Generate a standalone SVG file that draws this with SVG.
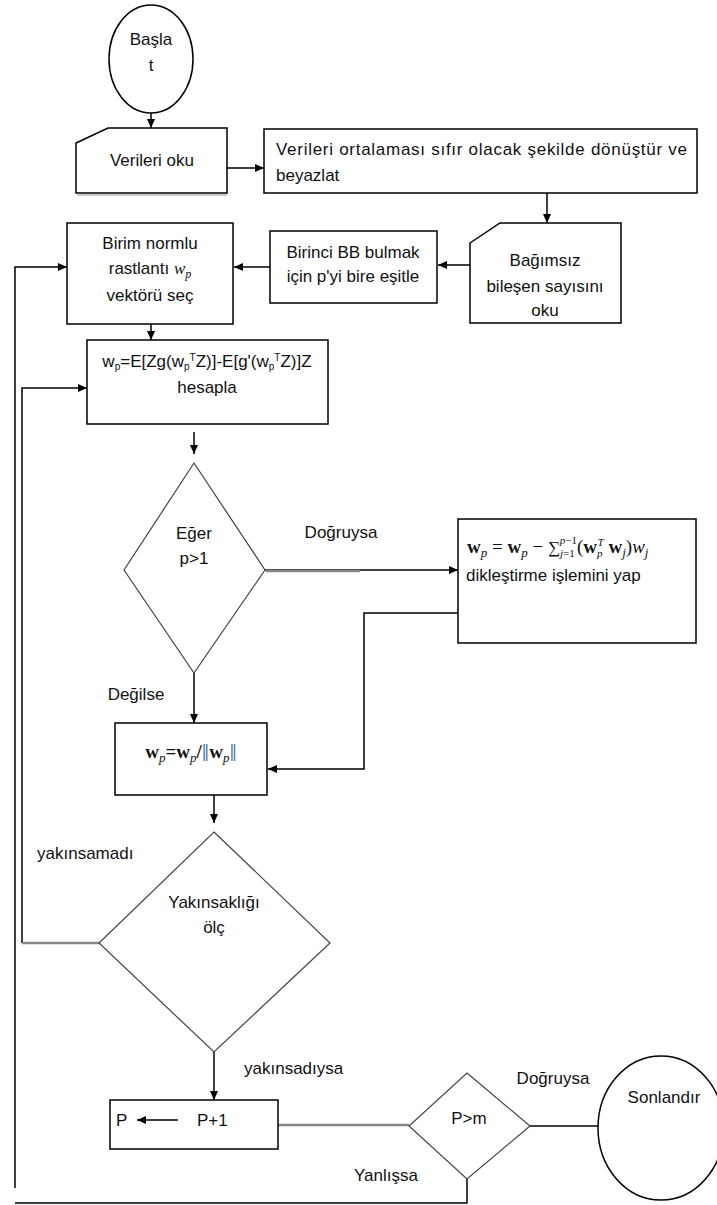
<svg xmlns="http://www.w3.org/2000/svg" width="717" height="1205" viewBox="0 0 717 1205">
<style>
.t{font-family:"Liberation Sans",Arial,sans-serif;font-size:17px;fill:#111;}
.m{text-anchor:middle;}
.s{font-family:"Liberation Serif","Times New Roman",serif;fill:#111;}
.box{fill:#fff;stroke:#000;stroke-width:1.5;}
.dia{fill:#fff;stroke:#444;stroke-width:1.2;}
.ln{fill:none;stroke:#000;stroke-width:1.5;}
.gr{fill:none;stroke:#888;stroke-width:2.5;}
</style>
<defs>
<marker id="ah" markerUnits="userSpaceOnUse" markerWidth="10" markerHeight="10" refX="9" refY="5" orient="auto">
<path d="M0,1 L9,5 L0,9 Z" fill="#000"/>
</marker>
</defs>
<rect width="717" height="1205" fill="#fff"/>

<g id="connectors">
<line class="ln" x1="151" y1="113" x2="151" y2="128" marker-end="url(#ah)"/>
<line class="ln" x1="227" y1="168" x2="264" y2="168" marker-end="url(#ah)"/>
<line class="ln" x1="547" y1="193" x2="547" y2="223" marker-end="url(#ah)"/>
<line class="ln" x1="470" y1="265" x2="438" y2="265" marker-end="url(#ah)"/>
<line class="ln" x1="270" y1="267" x2="234" y2="267" marker-end="url(#ah)"/>
<polyline class="ln" points="15,1188 15,267 67,267" marker-end="url(#ah)"/>
<line class="ln" x1="151" y1="324" x2="151" y2="340" marker-end="url(#ah)"/>
<polyline class="ln" points="22,943 22,388 87,388" marker-end="url(#ah)"/>
<line class="gr" x1="99" y1="943" x2="22" y2="943"/>
<line class="ln" x1="194" y1="432" x2="194" y2="454" marker-end="url(#ah)"/>
<line class="ln" x1="265" y1="570" x2="458" y2="570" marker-end="url(#ah)"/>
<line class="gr" x1="266" y1="571" x2="360" y2="571" stroke-width="1.5"/>
<polyline class="ln" points="458,613 364,613 364,769 268,769" marker-end="url(#ah)"/>
<line class="ln" x1="194" y1="673" x2="194" y2="723" marker-end="url(#ah)"/>
<line class="ln" x1="214" y1="795" x2="214" y2="823" marker-end="url(#ah)"/>
<line class="ln" x1="214" y1="1052" x2="214" y2="1100" marker-end="url(#ah)"/>
<line class="gr" x1="278" y1="1125" x2="409" y2="1125"/>
<line class="ln" x1="530" y1="1126" x2="598" y2="1126"/>
<polyline class="ln" points="467,1179 467,1203 15,1203" stroke="#444"/>
</g>

<g id="start">
<ellipse class="box" cx="151" cy="59" rx="42" ry="54" stroke-width="1.2" stroke="#333"/>
<text class="t m" x="151" y="45">Başla</text>
<text class="t m" x="151" y="71">t</text>
</g>

<g id="read-data">
<path class="box" d="M76,143 L108,128 L227,128 L227,193 L76,193 Z"/>
<line x1="77" y1="195" x2="227" y2="195" stroke="#999" stroke-width="1"/>
<text class="t m" x="152" y="166">Verileri oku</text>
</g>

<g id="transform">
<rect class="box" x="264" y="129" width="433" height="64"/>
<text class="t" x="276" y="155" textLength="411" lengthAdjust="spacing">Verileri ortalaması sıfır olacak şekilde dönüştür ve</text>
<text class="t" x="276" y="181">beyazlat</text>
</g>

<g id="read-count">
<path class="box" d="M470,243 L500,223 L621,223 L621,323 L470,323 Z"/>
<text class="t m" x="545" y="266">Bağımsız</text>
<text class="t m" x="545" y="292">bileşen sayısını</text>
<text class="t m" x="545" y="316">oku</text>
</g>

<g id="set-p">
<rect class="box" x="270" y="231" width="167" height="72"/>
<text class="t m" x="353" y="258">Birinci BB bulmak</text>
<text class="t m" x="353" y="282">için p'yi bire eşitle</text>
</g>

<g id="choose-w">
<rect class="box" x="67" y="223" width="166" height="101"/>
<text class="t m" x="150" y="249">Birim normlu</text>
<text class="t m" x="150" y="274">rastlantı <tspan class="s" font-style="italic">w<tspan font-size="12" dy="4">p</tspan></tspan></text>
<text class="t m" x="150" y="301">vektörü seç</text>
</g>

<g id="compute-w">
<rect class="box" x="87" y="340" width="241" height="84"/>
<text class="t m" x="207" y="367">w<tspan font-size="10" dy="3">p</tspan><tspan dy="-3">=E[Zg(w</tspan><tspan font-size="10" dy="3">p</tspan><tspan font-size="10" dy="-9">T</tspan><tspan dy="6">Z)]-E[g'(w</tspan><tspan font-size="10" dy="3">p</tspan><tspan font-size="10" dy="-9">T</tspan><tspan dy="6">Z)]Z</tspan></text>
<text class="t m" x="207" y="393">hesapla</text>
</g>

<g id="decision-p">
<polygon class="dia" points="194,463 265,570 194,673 124,570"/>
<text class="t m" x="194" y="539">Eğer</text>
<text class="t m" x="194" y="564">p&gt;1</text>
</g>

<g id="orthogonalize">
<rect class="box" x="458" y="519" width="238" height="124"/>
<text class="s" x="467" y="553" font-size="19"><tspan font-weight="bold">w</tspan><tspan font-style="italic" font-size="13" dy="4">p</tspan><tspan dy="-4"> = </tspan><tspan font-weight="bold">w</tspan><tspan font-style="italic" font-size="13" dy="4">p</tspan><tspan dy="-4"> − </tspan><tspan font-size="17">∑</tspan><tspan font-style="italic" font-size="11" dy="4">j</tspan><tspan font-size="11">=1</tspan><tspan font-style="italic" font-size="11" dx="-15" dy="-13">p</tspan><tspan font-size="11">−1</tspan><tspan dy="9">(</tspan><tspan font-weight="bold">w</tspan><tspan font-style="italic" font-size="11" dy="4">p</tspan><tspan font-style="italic" font-size="11" dx="-5" dy="-11">T</tspan><tspan dy="7"> </tspan><tspan font-weight="bold">w</tspan><tspan font-style="italic" font-size="13" dy="4">j</tspan><tspan dy="-4">)</tspan><tspan font-style="italic">w</tspan><tspan font-style="italic" font-size="13" dy="4">j</tspan></text>
<text class="t" x="466" y="581">dikleştirme işlemini yap</text>
</g>

<g id="normalize">
<rect class="box" x="115" y="723" width="152" height="72"/>
<text class="s m" x="191" y="758" font-size="19" font-weight="bold">w<tspan font-style="italic" font-weight="normal" font-size="13" dy="4">p</tspan><tspan dy="-4">=w</tspan><tspan font-style="italic" font-weight="normal" font-size="13" dy="4">p</tspan><tspan dy="-4">/</tspan><tspan fill="#4a6fa5" font-weight="normal" font-size="26" dy="3">‖</tspan><tspan dy="-3">w</tspan><tspan font-style="italic" font-weight="normal" font-size="13" dy="4">p</tspan><tspan fill="#4a6fa5" font-weight="normal" font-size="26" dy="-1">‖</tspan></text>
</g>

<g id="converge">
<polygon class="dia" points="214,832 330,943 214,1052 99,943"/>
<text class="t m" x="214" y="908">Yakınsaklığı</text>
<text class="t m" x="214" y="933">ölç</text>
</g>

<g id="increment">
<rect class="box" x="110" y="1100" width="168" height="49"/>
<text class="t" x="116" y="1126">P</text>
<line x1="178" y1="1120" x2="137" y2="1120" stroke="#000" stroke-width="1.5" marker-end="url(#ah)"/>
<text class="t" x="197" y="1126">P+1</text>
</g>

<g id="decision-m">
<polygon class="dia" points="467,1073 530,1126 467,1179 409,1126"/>
<text class="t m" x="469" y="1124">P&gt;m</text>
</g>

<g id="end">
<ellipse class="box" cx="661" cy="1128" rx="63" ry="72" stroke-width="1.2" stroke="#333"/>
<text class="t m" x="664" y="1103">Sonlandır</text>
</g>

<g id="labels">
<text class="t m" x="341" y="538">Doğruysa</text>
<text class="t m" x="136" y="700">Değilse</text>
<text class="t" x="37" y="859">yakınsamadı</text>
<text class="t" x="244" y="1074">yakınsadıysa</text>
<text class="t m" x="553" y="1084">Doğruysa</text>
<text class="t m" x="386" y="1181">Yanlışsa</text>
</g>
</svg>
